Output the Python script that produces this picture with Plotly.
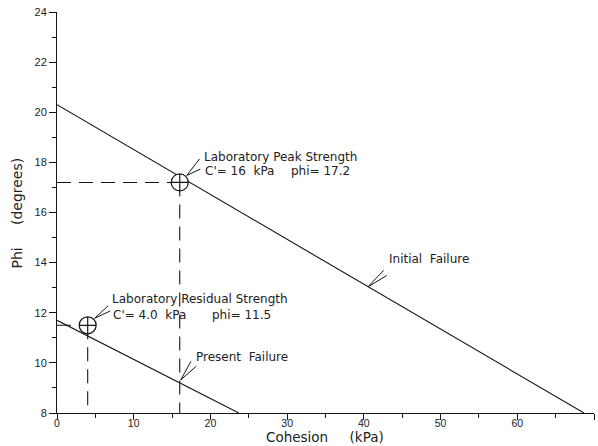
import plotly.graph_objects as go

# Failure envelopes: cohesion (kPa) vs friction angle phi (degrees)
initial_c = [0, 68.7]
initial_phi = [20.3, 8.0]
present_c = [0, 23.7]
present_phi = [11.7, 8.0]

# Laboratory strength points
peak_c, peak_phi = 16, 17.2
resid_c, resid_phi = 4.0, 11.5

x_ticks = [0, 10, 20, 30, 40, 50, 60, 70]
y_ticks = [8, 10, 12, 14, 16, 18, 20, 22, 24]

INK = "#151515"
TXT = "#222222"
LABEL_FONT = dict(family="DejaVu Sans", size=12, color=TXT)

fig = go.Figure()

# dashed guide lines from the lab points to the axes
dash = dict(color=INK, width=1.1, dash="14px,8px")
for c, p in [(peak_c, peak_phi), (resid_c, resid_phi)]:
    fig.add_trace(go.Scatter(x=[0, c], y=[p, p], mode="lines", line=dash,
                             hoverinfo="skip"))
    fig.add_trace(go.Scatter(x=[c, c], y=[p, y_ticks[0]], mode="lines", line=dash,
                             hoverinfo="skip"))

# envelopes
fig.add_trace(go.Scatter(x=initial_c, y=initial_phi, mode="lines",
                         line=dict(color=INK, width=1.1), name="Initial Failure"))
fig.add_trace(go.Scatter(x=present_c, y=present_phi, mode="lines",
                         line=dict(color=INK, width=1.1), name="Present Failure"))

# lab points drawn as circle-with-cross symbols
fig.add_trace(go.Scatter(
    x=[peak_c, resid_c], y=[peak_phi, resid_phi], mode="markers",
    marker=dict(symbol="circle-cross", size=17, color="white",
                line=dict(color=INK, width=1.2)),
    hoverinfo="skip"))

annotations = []


def text_at(x, y, s):
    annotations.append(dict(x=x, y=y, text=s, showarrow=False, xanchor="left",
                            yanchor="middle", font=LABEL_FONT))


def pointer(x, y, tails, xshift=0, yshift=0):
    # two converging strokes that form an open "<" pointer
    for ax, ay in tails:
        annotations.append(dict(x=x, y=y, ax=ax, ay=ay, text="", showarrow=True,
                                arrowhead=0, arrowwidth=1, arrowcolor=INK,
                                xshift=xshift, yshift=yshift, standoff=0))


nb = "&nbsp;"
text_at(18.9, 18.23, "Laboratory Peak Strength")
text_at(19.0, 17.66, f"C'={nb}16{nb}{nb}kPa")
text_at(30.3, 17.66, f"phi={nb}17.2")
pointer(peak_c, peak_phi, [(14, -18), (15, -7)], xshift=7, yshift=7)

text_at(6.95, 12.53, "Laboratory Residual Strength")
text_at(7.05, 11.93, f"C'={nb}4.0{nb}{nb}kPa")
text_at(20.0, 11.93, f"phi={nb}11.5")
pointer(resid_c, resid_phi, [(15, -14), (17, -8)], xshift=7, yshift=7)

text_at(17.8, 10.24, f"Present{nb}{nb}Failure")
pointer(16, 9.2, [(11, -20), (17, -15)], xshift=1, yshift=3)

text_at(43.0, 14.15, f"Initial{nb}{nb}Failure")
pointer(40.56, 13.04, [(17, -18), (20, -12)])

# axis titles
annotations.append(dict(x=0.499, y=-0.06, xref="paper", yref="paper",
                        text=f"Cohesion{nb * 5}(kPa)", showarrow=False,
                        xanchor="center", yanchor="middle",
                        font=dict(family="DejaVu Sans", size=13.5, color=TXT)))
annotations.append(dict(x=-0.0745, y=0.5, xref="paper", yref="paper",
                        text=f"Phi{nb * 5}(degrees)", showarrow=False, textangle=-90,
                        xanchor="center", yanchor="middle",
                        font=dict(family="DejaVu Sans", size=14, color=TXT)))

axis_common = dict(showgrid=False, zeroline=False, showline=True, linecolor=INK,
                   linewidth=1, ticks="outside", tickcolor=INK, tickwidth=1)

fig.update_layout(
    width=598, height=446,
    margin=dict(l=57, r=4, t=12, b=33),
    paper_bgcolor="white", plot_bgcolor="white",
    showlegend=False,
    annotations=annotations,
    xaxis=dict(range=[0, 70], tickvals=x_ticks, ticklen=6, ticklabelstandoff=-6,
               tickfont=dict(family="Liberation Sans", size=10.5, color=TXT),
               minor=dict(dtick=5, ticklen=4, ticks="outside", tickcolor=INK),
               **axis_common),
    yaxis=dict(range=[8, 24], tickvals=y_ticks, ticklen=7,
               tickfont=dict(family="Liberation Sans", size=11, color=TXT),
               minor=dict(dtick=1, ticklen=4, ticks="outside", tickcolor=INK),
               **axis_common),
)

fig.write_html("out.html")
